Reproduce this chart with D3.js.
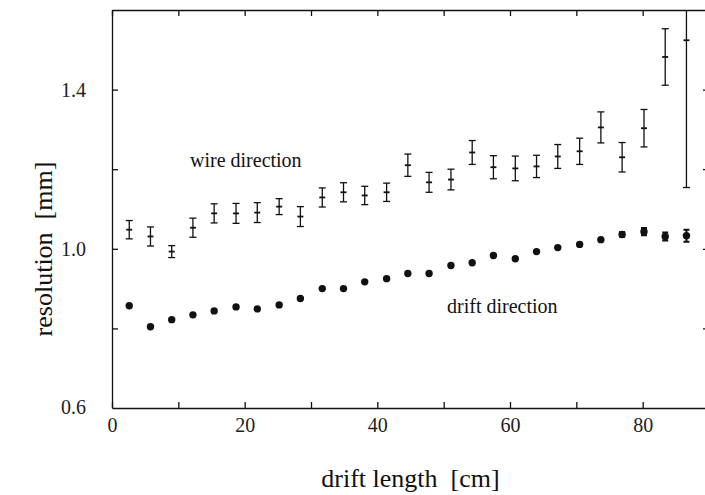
<!DOCTYPE html>
<html>
  <head>
    <title>Drift chamber resolution</title>
    <script src="https://d3js.org/d3.v7.min.js"></script>
    <style>
      body {
        margin: 0;
        background: #fff;
      }
      .axis path, .axis line {
        stroke: #111;
        stroke-width: 1.3;
      }
    </style>
  </head>
  <body>
    <script>
      // bin centres along the drift length (cm)
      const driftLength = [2.6, 5.8, 9.0, 12.2, 15.4, 18.7, 21.9, 25.2, 28.4, 31.7, 34.9, 38.1, 41.4,
                           44.6, 47.8, 51.1, 54.3, 57.5, 60.8, 64.0, 67.2, 70.5, 73.7, 76.9, 80.2, 83.4, 86.6];

      // resolution along the wire (mm) and its error
      const wireRes = [1.048, 1.031, 0.993, 1.053, 1.089, 1.089, 1.091, 1.106, 1.081, 1.129, 1.142, 1.134, 1.142,
                       1.210, 1.167, 1.174, 1.242, 1.205, 1.202, 1.207, 1.232, 1.245, 1.305, 1.230, 1.303, 1.482, 1.524];
      const wireErr = [0.023, 0.024, 0.015, 0.024, 0.024, 0.025, 0.025, 0.020, 0.025, 0.024, 0.024, 0.023, 0.023,
                       0.028, 0.025, 0.026, 0.030, 0.029, 0.031, 0.028, 0.030, 0.033, 0.039, 0.037, 0.047, 0.071, 0.370];

      // resolution in drift direction (mm) and its error
      const driftRes = [0.857, 0.804, 0.822, 0.834, 0.844, 0.854, 0.849, 0.859, 0.875, 0.900, 0.900, 0.917, 0.925,
                        0.938, 0.938, 0.958, 0.965, 0.983, 0.975, 0.993, 1.003, 1.011, 1.023, 1.036, 1.043, 1.031, 1.033];
      const driftErr = [0, 0, 0, 0, 0, 0, 0, 0, 0, 0, 0, 0, 0,
                        0, 0, 0, 0, 0, 0, 0, 0, 0, 0, 0.006, 0.009, 0.010, 0.015];

      const xTicks = [0, 10, 20, 30, 40, 50, 60, 70, 80, 90];
      const xTickLabels = [0, 20, 40, 60, 80];
      const yTicks = [0.6, 0.8, 1.0, 1.2, 1.4, 1.6];
      const yTickLabels = [0.6, 1.0, 1.4];

      const w = 705;
      const h = 495;
      const m = {left: 112, right: 709, top: 10, bottom: 408};
      const serif = '"Liberation Serif", "Times New Roman", Times, "DejaVu Serif", serif';

      const xScale = d3.scaleLinear()
                       .domain([0, 90])
                       .range([m.left, m.right]);

      const yScale = d3.scaleLinear()
                       .domain([0.6, 1.6])
                       .range([m.bottom, m.top]);

      const svg = d3.select('body')
                    .append('svg')
                    .attr('width', w)
                    .attr('height', h)
                    .attr('font-family', serif);

      svg.append('rect')
         .attr('width', w)
         .attr('height', h)
         .attr('fill', '#fff');

      svg.append('clipPath')
         .attr('id', 'plot-clip')
         .append('rect')
         .attr('x', m.left)
         .attr('y', m.top)
         .attr('width', m.right - m.left)
         .attr('height', m.bottom - m.top);

      // frame with inward ticks on all four sides
      const fmtX = d => xTickLabels.includes(d) ? d3.format('d')(d) : '';
      const fmtY = d => yTickLabels.some(v => Math.abs(v - d) < 1e-9) ? d3.format('.1f')(d) : '';

      const xAxis = d3.axisBottom(xScale)
                      .tickValues(xTicks)
                      .tickSize(-6)
                      .tickSizeOuter(0)
                      .tickPadding(10)
                      .tickFormat(fmtX);
      const xAxisTop = d3.axisTop(xScale)
                         .tickValues(xTicks)
                         .tickSize(-6)
                         .tickSizeOuter(0)
                         .tickFormat('');
      const yAxis = d3.axisLeft(yScale)
                      .tickValues(yTicks.slice(1, -1))
                      .tickSize(-6)
                      .tickSizeOuter(0)
                      .tickPadding(26)
                      .tickFormat(fmtY);
      const yAxisRight = d3.axisRight(yScale)
                           .tickValues(yTicks.slice(1, -1))
                           .tickSize(-6)
                           .tickSizeOuter(0)
                           .tickFormat('');

      const styleText = g => g.attr('font-family', serif)
                              .selectAll('text')
                              .attr('font-size', 20)
                              .attr('fill', '#222');

      svg.append('g')
         .attr('class', 'axis')
         .attr('transform', `translate(0, ${m.bottom})`)
         .call(xAxis)
         .call(styleText);

      svg.append('g')
         .attr('class', 'axis')
         .attr('transform', `translate(0, ${m.top})`)
         .call(xAxisTop);

      svg.append('g')
         .attr('class', 'axis')
         .attr('transform', `translate(${m.left}, 0)`)
         .call(yAxis)
         .call(styleText);

      // 0.6 label sits at the corner, no tick drawn there
      svg.append('text')
         .attr('x', m.left - 26)
         .attr('y', yScale(0.6))
         .attr('dy', '0.32em')
         .attr('text-anchor', 'end')
         .attr('font-size', 20)
         .attr('fill', '#222')
         .text(d3.format('.1f')(yTickLabels[0]));

      svg.append('g')
         .attr('class', 'axis')
         .attr('transform', `translate(${m.right}, 0)`)
         .call(yAxisRight);

      // data
      const plot = svg.append('g')
                      .attr('clip-path', 'url(#plot-clip)')
                      .attr('stroke', '#111')
                      .attr('stroke-width', 1.3);

      const wire = driftLength.map((x, i) => ({x: x, y: wireRes[i], e: wireErr[i]}));
      const drift = driftLength.map((x, i) => ({x: x, y: driftRes[i], e: driftErr[i]}));
      const cap = 3.5;

      const wg = plot.selectAll('.wire')
                     .data(wire)
                     .enter()
                     .append('g')
                     .attr('class', 'wire');
      wg.append('line')
        .attr('x1', d => xScale(d.x))
        .attr('x2', d => xScale(d.x))
        .attr('y1', d => yScale(d.y - d.e))
        .attr('y2', d => yScale(d.y + d.e));
      wg.append('line')
        .attr('x1', d => xScale(d.x) - cap)
        .attr('x2', d => xScale(d.x) + cap)
        .attr('y1', d => yScale(d.y - d.e))
        .attr('y2', d => yScale(d.y - d.e));
      wg.append('line')
        .attr('x1', d => xScale(d.x) - cap)
        .attr('x2', d => xScale(d.x) + cap)
        .attr('y1', d => yScale(d.y + d.e))
        .attr('y2', d => yScale(d.y + d.e));
      wg.append('line')
        .attr('x1', d => xScale(d.x) - 3)
        .attr('x2', d => xScale(d.x) + 3)
        .attr('y1', d => yScale(d.y))
        .attr('y2', d => yScale(d.y))
        .attr('stroke-width', 1.8);

      const dg = plot.selectAll('.drift')
                     .data(drift)
                     .enter()
                     .append('g')
                     .attr('class', 'drift');
      dg.filter(d => d.e > 0)
        .append('path')
        .attr('d', d => {
          const x = xScale(d.x), y0 = yScale(d.y - d.e), y1 = yScale(d.y + d.e);
          return `M${x},${y0}V${y1}M${x - 3},${y0}H${x + 3}M${x - 3},${y1}H${x + 3}`;
        })
        .attr('stroke-width', 2);
      dg.append('circle')
        .attr('cx', d => xScale(d.x))
        .attr('cy', d => yScale(d.y))
        .attr('r', 3.7)
        .attr('fill', '#111')
        .attr('stroke', 'none');

      // annotations and titles
      svg.append('text')
         .attr('x', 190)
         .attr('y', 167)
         .attr('font-size', 20)
         .attr('fill', '#111')
         .text('wire direction');

      svg.append('text')
         .attr('x', 447)
         .attr('y', 313)
         .attr('font-size', 20)
         .attr('fill', '#111')
         .text('drift direction');

      svg.append('text')
         .attr('x', (m.left + m.right) / 2)
         .attr('y', 487)
         .attr('text-anchor', 'middle')
         .attr('font-size', 26)
         .attr('fill', '#111')
         .attr('xml:space', 'preserve')
         .text('drift length  [cm]');

      svg.append('text')
         .attr('transform', `translate(52, ${(m.top + m.bottom) / 2 + 40}) rotate(-90)`)
         .attr('text-anchor', 'middle')
         .attr('font-size', 26)
         .attr('fill', '#111')
         .attr('xml:space', 'preserve')
         .text('resolution  [mm]');
    </script>
  </body>
</html>
